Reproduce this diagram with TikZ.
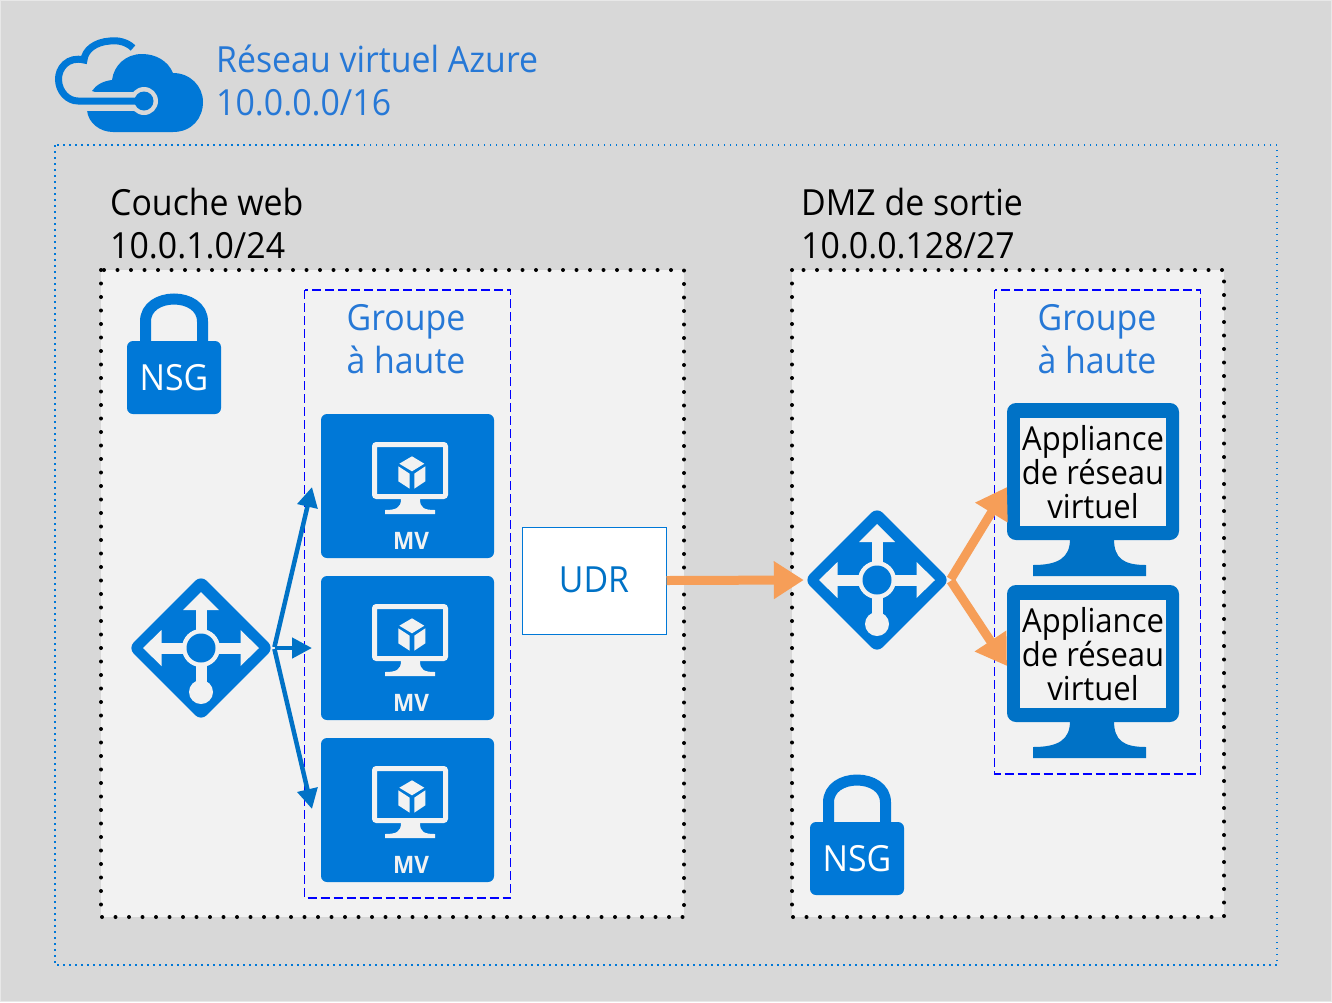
\documentclass[tikz,border=0pt]{standalone}
\usepackage{fontspec}
\setmainfont[FakeStretch=0.94]{Open Sans}
\usepackage{xcolor}
\usetikzlibrary{shapes.geometric,arrows.meta}
\definecolor{azure}{RGB}{0,120,215}
\definecolor{azuredark}{RGB}{0,114,198}
\definecolor{paneback}{RGB}{242,242,242}
\definecolor{outerback}{RGB}{216,216,216}
\definecolor{outeredge}{RGB}{232,232,232}
\definecolor{flow}{RGB}{246,158,88}
\definecolor{labelblue}{RGB}{38,120,214}

\tikzset{
    gate/.style={diamond,aspect=1,fill=azure,inner sep=0pt,minimum width=146pt,minimum height=146pt,rounded corners=8pt},
    tile/.style={fill=azure,rounded corners=6pt,minimum width=173pt,minimum height=144pt,inner sep=0pt},
    subnet/.style={fill=paneback,draw=black,line width=4pt,line cap=round,dash pattern=on 0pt off 13.5pt},
    avset/.style={draw=blue,line width=1.4pt,dash pattern=on 9pt off 4pt},
    bigtext/.style={font=\fontsize{36}{43}\selectfont,inner sep=0pt},
    bodytext/.style={font=\fontsize{33}{34}\selectfont,inner sep=0pt,align=center},
    blueflow/.style={draw=azuredark,line width=4.5pt,-{Triangle[length=20pt,width=20pt]}},
    orangeflow/.style={draw=flow,line width=9pt,-{Triangle[length=30pt,width=36pt]}},
    % icon on a gateway node
    pics/gateicon/.style={code={
        \fill[paneback] (-5.5,-45) rectangle (5.5,40);
        \fill[paneback] (-45,-5.5) rectangle (45,5.5);
        \fill[paneback] (0,-56) -- (18,-38) -- (-18,-38) -- cycle;
        \fill[paneback] (-58,0) -- (-39.5,-18) -- (-39.5,18) -- cycle;
        \fill[paneback] (58,0) -- (39.5,-18) -- (39.5,18) -- cycle;
        \fill[paneback] (0,44) circle (12);
        \fill[paneback] (0,0) circle (19);
        \fill[azure] (0,0) circle (14.5);
    }},
    % screen, stand and cube on a VM tile
    pics/vmicon/.style={code={
        \draw[paneback,line width=5pt,rounded corners=2pt] (-35.5,-25.5) rectangle (35.5,26.5);
        \fill[paneback] (-9,29) -- (10,29) .. controls (10,38) and (14,40) .. (25,40) -- (25,44) -- (-25,44) -- (-25,40) .. controls (-14,40) and (-9,38) .. (-9,29) -- cycle;
        \begin{scope}[shift={(2,2)}]
            \fill[paneback] (0,-15.7) -- (12.3,-8.3) -- (0,-0.7) -- (-12.7,-8.3) -- cycle;
            \fill[paneback] (-13.7,-5.7) -- (-2.3,1.7) -- (-2.3,16.7) -- (-13.7,9.3) -- cycle;
            \fill[paneback] (2.3,1.7) -- (13.3,-5.7) -- (13.3,9.3) -- (2.3,16.7) -- cycle;
        \end{scope}
    }},
    % padlock, origin at centre of the body
    pics/lockicon/.style={code={
        \draw[azure,line width=11pt] (-28.5,-36) -- (-28.5,-56) .. controls (-28.5,-86) and (28.5,-86) .. (28.5,-56) -- (28.5,-36);
        \fill[azure,rounded corners=6pt] (-47,-36.5) rectangle (47,36.5);
        \node[bigtext,text=white] (-txt) at (0,0) {NSG};
    }},
    % stand below a big monitor
    pics/standicon/.style={code={
        \fill[azuredark] (-23,-1) -- (21,-1) .. controls (21,18) and (30,25) .. (53,25) -- (53,36) -- (-60,36) -- (-60,25) .. controls (-35,25) and (-23,18) .. (-23,-1) -- cycle;
    }},
}

\begin{document}
\begin{tikzpicture}[x=1pt,y=-1pt]
    \useasboundingbox (0,0) rectangle (1332,1002);
    \fill[outeredge] (0,0) rectangle (1332,1002);
    \fill[outerback] (1,1) rectangle (1331,1001);

    % cloud
    \fill[azure] (87,110) .. controls (88,123) and (100,132) .. (113,132) -- (173,132)
        .. controls (192,132) and (203,118) .. (203,102) .. controls (203,86) and (190,73) .. (173,73)
        .. controls (168,61) and (156,54) .. (142,54) .. controls (126,54) and (114,65) .. (112,80)
        .. controls (103,81) and (96,85) .. (92,91) -- (120,100) -- cycle;
    \draw[outerback,line width=19pt] (80,101) -- (144,101);
    \fill[outerback] (144,101) circle (14);
    \fill[azure] (144,101) circle (9.5);
    \draw[azure,line width=7pt] (133,48) .. controls (127,42) and (118,40) .. (110,41) .. controls (95,42) and (85,50) .. (84,60)
        .. controls (68,56) and (58,68) .. (58.5,80) .. controls (59,92) and (68,101) .. (78,101) -- (144,101);

    \node[bigtext,text=labelblue,anchor=north west,align=left] (vnet) at (216,45) {Réseau virtuel Azure\\10.0.0.0/16};
    \draw[azure,line width=1.5pt,dash pattern=on 1.5pt off 4.5pt] (55,145) rectangle (1277,965);

    % web tier
    \node[bigtext,anchor=north west,align=left] (webname) at (110,188) {Couche web\\10.0.1.0/24};
    \draw[subnet] (101,270) rectangle (684,917);
    \draw[avset] (304.5,290) rectangle (510.5,898);
    \node[bigtext,text=labelblue,align=center] (webset) at (406,339) {Groupe\\à haute};
    \pic (lock0) at (174,377.5) {lockicon};

    \foreach \x in {0, 1, 2} {
        \node (mv\x) at (407.5,486+162*\x) [tile] {};
        \pic at (410,470+162*\x) {vmicon};
        \node (mvname\x) at (411,541+162*\x) [font=\fontsize{24}{24}\selectfont\bfseries,text=paneback,inner sep=0pt] {MV};
    }

    \node (gw0) at (201,648) [gate] {};
    \pic at (gw0) {gateicon};
    \coordinate (in0) at (312,487);
    \coordinate (in1) at (312,648);
    \coordinate (in2) at (312,809);
    \foreach \x in {0, 1, 2} {
        \draw[blueflow,shorten <=1pt] (gw0.east) -- (in\x);
    }

    \node (udr) at (594,580.5) [draw=azure,fill=white,line width=1pt,minimum width=144pt,minimum height=107pt,bigtext,text=azuredark] {\raisebox{1.5pt}{UDR}};

    % exit DMZ
    \node[bigtext,anchor=north west,align=left] (dmzname) at (801,188) {DMZ de sortie\\10.0.0.128/27};
    \draw[subnet] (792,270) rectangle (1224,917);
    \draw[avset] (994.5,290) rectangle (1200.5,774);
    \node[bigtext,text=labelblue,align=center] (dmzset) at (1097,339) {Groupe\\à haute};
    \pic (lock1) at (857,858.5) {lockicon};

    \foreach \x in {0, 1} {
        \node (case\x) at (1093,471.5+182*\x) [fill=azuredark,rounded corners=9pt,minimum width=172pt,minimum height=137pt,inner sep=0pt] {};
        \pic at (1093,540+182*\x) {standicon};
        \node (na\x) at (1093,472+182*\x) [fill=paneback,minimum width=146pt,minimum height=108pt,bodytext] {Appliance\\de réseau\\virtuel};
    }

    \node (gw1) at (877,580) [gate] {};
    \pic at (gw1) {gateicon};

    \coordinate (out0) at (1007,487);
    \coordinate (out1) at (1007,666);
    \draw[orangeflow] (udr.east) -- (gw1.west);
    \foreach \x in {0, 1} {
        \draw[orangeflow,shorten <=1pt] (gw1.east) -- (out\x);
    }
\end{tikzpicture}
\end{document}
